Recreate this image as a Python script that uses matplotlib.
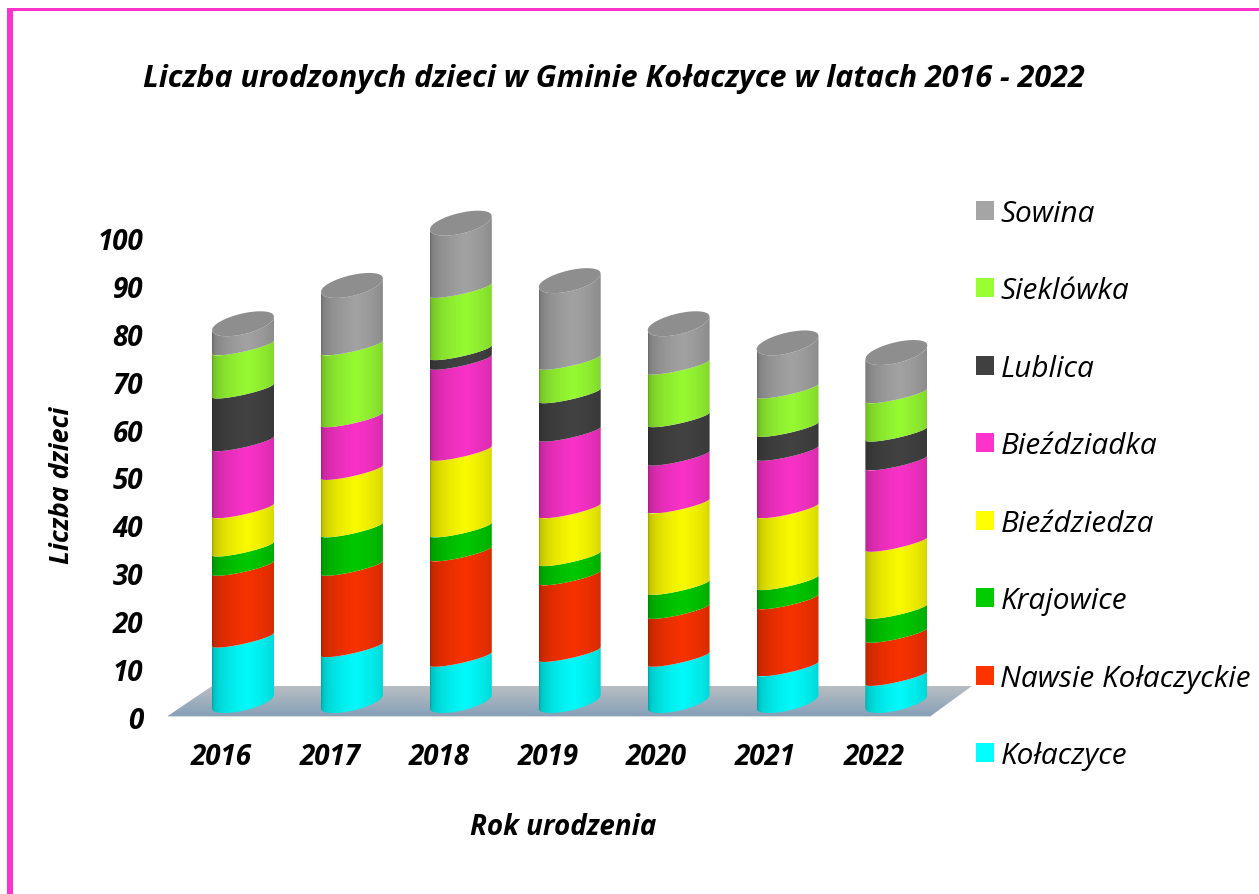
import numpy as np
import matplotlib
matplotlib.use("Agg")
import matplotlib.pyplot as plt
from matplotlib.patches import Patch, Polygon, Rectangle

years = ["2016", "2017", "2018", "2019", "2020", "2021", "2022"]
kolaczyce = [13, 11, 9, 10, 9, 7, 5]
nawsie = [15, 17, 22, 16, 10, 14, 9]
krajowice = [4, 8, 5, 4, 5, 4, 5]
biezdziedza = [8, 12, 16, 10, 17, 15, 14]
biezdziadka = [14, 11, 19, 16, 10, 12, 17]
lublica = [11, 0, 2, 8, 8, 5, 6]
sieklowka = [9, 15, 13, 7, 11, 8, 8]
sowina = [5, 13, 14, 17, 9, 10, 9]

names = ["Kołaczyce", "Nawsie Kołaczyckie", "Krajowice", "Bieździedza",
         "Bieździadka", "Lublica", "Sieklówka", "Sowina"]
series = [kolaczyce, nawsie, krajowice, biezdziedza, biezdziadka, lublica, sieklowka, sowina]
bar_cols = ["#00fafa", "#f83200", "#00c800", "#fafa00", "#fa32c8", "#424242", "#96fa32", "#a2a2a2"]
leg_cols = ["#00ffff", "#ff3300", "#00cc00", "#ffff00", "#ff33cc", "#404040", "#99ff33", "#a5a5a5"]

W, H = 1259, 895
plt.rcParams['font.family'] = ['Open Sans', 'DejaVu Sans']

fig = plt.figure(figsize=(W / 100, H / 100), dpi=100, facecolor="white")

# axes box in pixels, x in years and y in children
L, R, B, T = 168, 972, 718, 191
ax = fig.add_axes([L / W, 1 - B / H, (R - L) / W, (B - T) / H])
ppu = 4.79
step = 108.9
ax.set_xlim((L - 243) / step, (R - 243) / step)
ax.set_ylim(0, (B - T) / ppu)

depth = 8.5 / ppu     # bars stand behind the front edge of the floor
half = 31 / step      # half a cylinder
tilt = 13.5 / ppu     # right side sits higher than left


def curve(xc, v, bulge, u=None):
    if u is None:
        u = np.linspace(-1, 1, 80)
    xs = xc + half * u
    ys = v + depth + tilt * (u + 1) / 2 - bulge / ppu * np.sqrt(1 - u ** 2)
    return xs, ys


def shade(col):
    rgb = np.array(matplotlib.colors.to_rgb(col))
    u = np.linspace(-1, 1, 80)
    s = 0.64 + 0.36 * np.clip(1 - np.abs(u - 0.12) / 1.12, 0, 1) ** 0.32
    return (rgb[None, None, :] * s[None, :, None]).clip(0, 1)


def floor():
    fy = 31 / ppu
    pts = [((167 - 243) / step, 0.1), ((930 - 243) / step, 0.1),
           ((972 - 243) / step, fy), ((212 - 243) / step, fy)]
    top = np.array(matplotlib.colors.to_rgb("#b8bdc2"))
    bot = np.array(matplotlib.colors.to_rgb("#84a0b8"))
    g = np.linspace(0, 1, 40)[:, None, None] * (bot - top)[None, None, :] + top[None, None, :]
    im = ax.imshow(g, extent=(pts[0][0], pts[2][0], 0, fy), aspect="auto", zorder=1)
    poly = Polygon(pts, closed=True, transform=ax.transData, fc="none", ec="none")
    ax.add_patch(poly)
    im.set_clip_path(poly)
    ax.plot([pts[0][0], pts[1][0]], [0.1, 0.1], color="#d5d8da", lw=1.5, zorder=1)


floor()

for i in range(len(years)):
    bottom = 0
    for j, vals in enumerate(series):
        v = vals[i]
        if v == 0:
            continue
        last = j == len(series) - 1
        low = 9 if bottom == 0 else 4.5
        up = 11 if last else 4.5
        x0, y0 = curve(i, bottom, low)
        x1, y1 = curve(i, bottom + v, up)
        pts = np.vstack([np.column_stack([x0, y0]), np.column_stack([x1, y1])[::-1]])
        im = ax.imshow(shade(bar_cols[j]), extent=(i - half, i + half, y0.min(), y1.max()),
                       aspect="auto", interpolation="bilinear", zorder=3 + j)
        poly = Polygon(pts, closed=True, transform=ax.transData, fc="none", ec="none")
        ax.add_patch(poly)
        im.set_clip_path(poly)
        bottom += v
    # lid
    xf, yf = curve(i, bottom, 11)
    xb, yb = curve(i, bottom, -10)
    lid = np.vstack([np.column_stack([xf, yf]), np.column_stack([xb, yb])[::-1]])
    ax.add_patch(Polygon(lid, closed=True, fc="#8e8e8e", ec="none", zorder=20))

ax.set_xlim((L - 243) / step, (R - 243) / step)
ax.set_ylim(0, (B - T) / ppu)

for s in ax.spines.values():
    s.set_visible(False)
ax.patch.set_alpha(0)

ax.set_yticks(np.arange(0, 101, 10))
ax.set_xticks(np.arange(len(years)) - 22 / step)
ax.set_xticklabels(years)
ax.tick_params(axis="y", length=0, pad=18)
ax.tick_params(axis="x", length=0, pad=18)
for lab in ax.get_xticklabels() + ax.get_yticklabels():
    lab.set_fontsize(20)
    lab.set_fontweight("bold")
    lab.set_fontstyle("italic")

fig.text(613.5 / W, 1 - 79 / H, "Liczba urodzonych dzieci w Gminie Kołaczyce w latach 2016 - 2022",
         ha="center", va="center", fontsize=22, fontweight="bold", fontstyle="italic")
fig.text(62 / W, 1 - 485 / H, "Liczba dzieci", rotation=90, ha="center", va="center",
         fontsize=19.3, fontweight="bold", fontstyle="italic")
fig.text(563 / W, 1 - 828 / H, "Rok urodzenia", ha="center", va="center",
         fontsize=20, fontweight="bold", fontstyle="italic")

handles = [Patch(fc=c, ec="none") for c in leg_cols[::-1]]
fig.legend(handles, names[::-1], loc="upper left", bbox_to_anchor=(970 / W, 1 - 194 / H),
           frameon=False, prop={"size": 21.4, "style": "italic"},
           handlelength=0.606, handleheight=0.606, handletextpad=0.22, labelspacing=1.63,
           borderpad=0.2, borderaxespad=0)

# pink frame, left and top only
fig.add_artist(Rectangle((7 / W, 0), 6 / W, 1 - 9 / H, transform=fig.transFigure, fc="#ff33cc", ec="none"))
fig.add_artist(Rectangle((7 / W, 1 - 12 / H), 1 - 7 / W, 3 / H, transform=fig.transFigure, fc="#ff33cc", ec="none"))

fig.savefig("out.png", dpi=100)
